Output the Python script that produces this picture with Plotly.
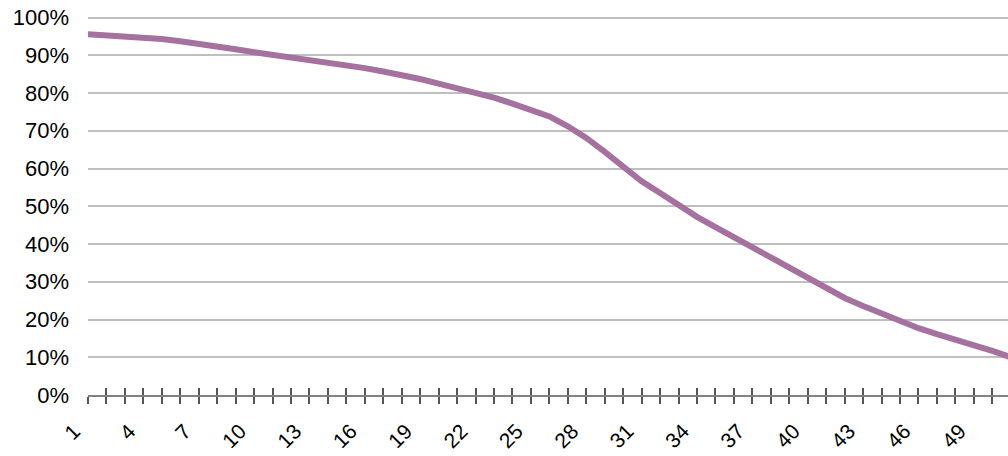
import plotly.graph_objects as go

categories = list(range(1, 52))
values = [0.956, 0.953, 0.950, 0.948, 0.943, 0.937, 0.931, 0.924, 0.916, 0.908,
          0.901, 0.895, 0.889, 0.882, 0.874, 0.866, 0.857, 0.848, 0.837, 0.825,
          0.813, 0.801, 0.788, 0.772, 0.756, 0.738, 0.712, 0.681, 0.644, 0.605,
          0.566, 0.535, 0.503, 0.472, 0.445, 0.418, 0.392, 0.365, 0.337, 0.308,
          0.281, 0.257, 0.236, 0.215, 0.195, 0.177, 0.161, 0.147, 0.133, 0.117,
          0.100]
tick_labels = [str(c) if (c - 1) % 3 == 0 and c <= 49 else "" for c in categories]
y_ticks = [i / 10 for i in range(11)]

FONT = "Liberation Sans, Arial, sans-serif"
x_range = [1, 50.85]
y_range = [0, 1.004]

fig = go.Figure()
fig.add_trace(go.Scatter(x=categories, y=values, mode="lines",
                         line=dict(color="#A5719F", width=6),
                         hoverinfo="skip", showlegend=False))
# invisible trace for the overlay axis (inside half of the cross tick marks)
fig.add_trace(go.Scatter(x=categories[:1], y=values[:1], mode="lines", xaxis="x2",
                         line=dict(width=0), opacity=0, hoverinfo="skip",
                         showlegend=False))

fig.update_layout(
    width=1008, height=456,
    margin=dict(l=88, r=0, t=15.5, b=60.5),
    paper_bgcolor="white", plot_bgcolor="white",
    font=dict(family=FONT, size=22, color="#000000"),
    xaxis=dict(range=x_range, tickmode="array", tickvals=categories,
               ticktext=tick_labels, tickangle=-45, ticks="outside",
               ticklen=7, tickwidth=1.5, tickcolor="#555555",
               showline=True, linecolor="#808080", linewidth=1.5,
               showgrid=False, zeroline=False, automargin=False,
               ticklabelstandoff=7, ticklabelshift=-14,
               tickfont=dict(family=FONT, size=21, color="#000000")),
    xaxis2=dict(range=x_range, overlaying="x", anchor="y", side="bottom",
                tickmode="array", tickvals=categories, showticklabels=False,
                ticks="inside", ticklen=7, tickwidth=1.5, tickcolor="#555555",
                showline=False, showgrid=False, zeroline=False, automargin=False),
    yaxis=dict(range=y_range, tickmode="array", tickvals=y_ticks,
               tickformat=".0%", showgrid=True, gridcolor="#BFBFBF",
               gridwidth=2, zeroline=False, showline=False, ticks="",
               ticklabelstandoff=18, automargin=False,
               tickfont=dict(family=FONT, size=22, color="#000000")),
)

# remove the browser's default 8px body margin so the figure sits at (0, 0)
fig.write_html("out.html", config={"displayModeBar": False},
               post_script="document.body.style.margin='0';")
